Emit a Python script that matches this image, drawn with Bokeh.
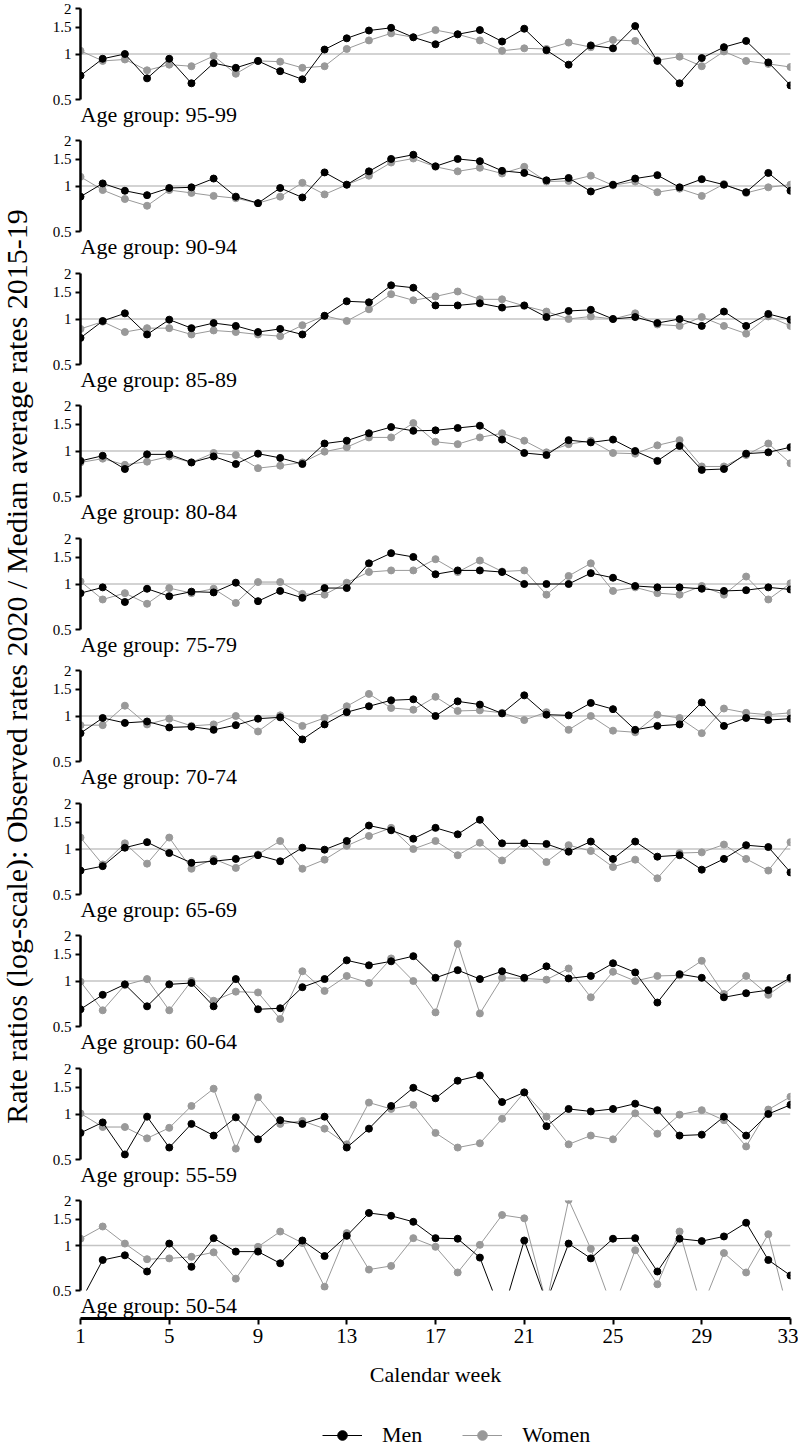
import math
from bokeh.plotting import figure
from bokeh.models import (Range1d, FixedTicker, CustomJSTickFormatter, Span, Title,
                          Legend, LegendItem, Label)
from bokeh.layouts import row, column
from bokeh.embed import file_html
from bokeh.resources import INLINE

weeks = list(range(1, 34))
x_ticks = [1, 5, 9, 13, 17, 21, 25, 29, 33]
y_ticks = [0.5, 1, 1.5, 2]
age_groups = ["95-99", "90-94", "85-89", "80-84", "75-79",
              "70-74", "65-69", "60-64", "55-59", "50-54"]

men_95_99 = [0.72,0.93,1.00,0.69,0.93,0.64,0.87,0.81,0.90,0.77,0.68,1.07,1.27,1.43,1.49,1.29,1.16,1.35,1.44,1.21,1.47,1.06,0.85,1.14,1.09,1.53,0.90,0.64,0.94,1.11,1.22,0.88,0.62]
women_95_99 = [1.05,0.90,0.92,0.78,0.85,0.83,0.97,0.74,0.90,0.89,0.81,0.83,1.08,1.23,1.37,1.29,1.44,1.35,1.23,1.05,1.09,1.08,1.19,1.11,1.24,1.22,0.91,0.96,0.83,1.04,0.90,0.86,0.82]
men_90_94 = [0.85,1.04,0.93,0.87,0.97,0.98,1.12,0.85,0.77,0.97,0.84,1.23,1.02,1.25,1.51,1.61,1.35,1.51,1.46,1.26,1.22,1.09,1.13,0.92,1.02,1.12,1.18,0.98,1.11,1.02,0.91,1.22,0.93]
women_90_94 = [1.15,0.94,0.82,0.74,0.94,0.90,0.86,0.83,0.77,0.85,1.05,0.88,1.02,1.17,1.43,1.52,1.34,1.25,1.32,1.21,1.34,1.07,1.08,1.17,1.01,1.07,0.91,0.96,0.86,1.03,0.90,0.98,1.02]
men_85_89 = [0.75,0.97,1.09,0.79,0.99,0.87,0.94,0.90,0.82,0.86,0.79,1.05,1.31,1.29,1.67,1.61,1.23,1.23,1.27,1.19,1.23,1.03,1.13,1.15,1.00,1.03,0.94,1.00,0.90,1.12,0.90,1.08,0.99]
women_85_89 = [0.86,0.96,0.82,0.87,0.87,0.79,0.84,0.82,0.79,0.77,0.91,1.05,0.97,1.16,1.46,1.33,1.41,1.52,1.35,1.35,1.22,1.12,1.00,1.04,1.00,1.09,0.92,0.90,1.03,0.90,0.80,1.04,0.90]
men_80_84 = [0.86,0.93,0.76,0.95,0.95,0.84,0.92,0.82,0.96,0.90,0.82,1.12,1.17,1.31,1.44,1.36,1.37,1.42,1.47,1.19,0.97,0.94,1.18,1.14,1.19,1.00,0.86,1.08,0.75,0.76,0.96,0.98,1.06]
women_80_84 = [0.84,0.89,0.81,0.85,0.92,0.84,0.97,0.94,0.77,0.80,0.84,0.99,1.06,1.23,1.23,1.53,1.15,1.11,1.23,1.31,1.17,0.98,1.11,1.17,0.97,0.96,1.09,1.18,0.79,0.79,0.94,1.12,0.83]
men_75_79 = [0.87,0.95,0.76,0.93,0.83,0.89,0.88,1.02,0.77,0.90,0.81,0.94,0.94,1.37,1.60,1.51,1.16,1.23,1.23,1.20,1.00,1.00,1.00,1.18,1.10,0.97,0.95,0.95,0.93,0.90,0.91,0.95,0.92]
women_75_79 = [1.04,0.79,0.87,0.74,0.94,0.87,0.93,0.75,1.03,1.03,0.86,0.85,1.02,1.20,1.23,1.23,1.46,1.20,1.43,1.21,1.23,0.85,1.13,1.37,0.90,0.95,0.87,0.85,0.97,0.85,1.12,0.79,1.01]
men_70_74 = [0.77,0.97,0.90,0.92,0.84,0.85,0.81,0.87,0.96,0.98,0.70,0.88,1.06,1.16,1.27,1.29,1.00,1.25,1.19,1.04,1.37,1.02,1.01,1.22,1.11,0.81,0.86,0.88,1.23,0.86,0.97,0.94,0.96]
women_70_74 = [0.87,0.87,1.17,0.88,0.96,0.86,0.88,1.00,0.79,1.01,0.86,0.97,1.16,1.40,1.13,1.10,1.34,1.08,1.09,1.05,0.94,1.06,0.81,1.00,0.80,0.78,1.02,0.97,0.77,1.12,1.05,1.02,1.05]
men_65_69 = [0.72,0.77,1.02,1.11,0.94,0.81,0.83,0.86,0.91,0.83,1.02,0.99,1.13,1.43,1.33,1.17,1.38,1.25,1.56,1.09,1.09,1.08,0.96,1.12,0.86,1.12,0.89,0.91,0.73,0.86,1.06,1.03,0.70]
women_65_69 = [1.19,0.79,1.09,0.80,1.19,0.74,0.86,0.75,0.92,1.13,0.74,0.85,1.05,1.22,1.38,1.00,1.13,0.91,1.10,0.84,1.10,0.82,1.06,0.97,0.76,0.85,0.64,0.94,0.95,1.07,0.86,0.72,1.11]
men_60_64 = [0.65,0.81,0.95,0.68,0.95,0.97,0.68,1.03,0.65,0.66,0.91,1.03,1.37,1.27,1.35,1.46,1.05,1.18,1.03,1.16,1.05,1.25,1.04,1.08,1.31,1.14,0.72,1.11,1.05,0.78,0.83,0.87,1.05]
women_60_64 = [0.99,0.64,0.94,1.03,0.64,1.00,0.74,0.85,0.84,0.56,1.16,0.86,1.08,0.97,1.41,1.00,0.62,1.76,0.61,1.05,1.04,1.02,1.21,0.78,1.15,1.00,1.08,1.09,1.36,0.82,1.08,0.81,1.03]
men_55_59 = [0.75,0.88,0.54,0.96,0.60,0.86,0.72,0.95,0.68,0.91,0.86,0.96,0.60,0.80,1.13,1.49,1.27,1.66,1.80,1.20,1.39,0.83,1.08,1.04,1.08,1.17,1.06,0.72,0.73,0.96,0.72,1.00,1.15]
women_55_59 = [1.01,0.82,0.82,0.69,0.81,1.13,1.47,0.59,1.29,0.86,0.90,0.80,0.63,1.19,1.08,1.15,0.75,0.60,0.64,0.93,1.39,0.96,0.63,0.72,0.68,1.01,0.74,0.99,1.06,0.91,0.61,1.07,1.30]
men_50_54 = [0.42,0.80,0.86,0.67,1.03,0.72,1.12,0.91,0.91,0.76,1.08,0.85,1.16,1.65,1.58,1.44,1.12,1.11,0.83,0.34,1.08,0.42,1.03,0.82,1.11,1.12,0.67,1.11,1.07,1.15,1.42,0.80,0.63]
women_50_54 = [1.11,1.34,1.03,0.81,0.82,0.84,0.90,0.60,0.98,1.24,1.04,0.53,1.21,0.69,0.73,1.12,0.98,0.66,1.01,1.60,1.52,0.41,2.02,0.95,0.37,0.93,0.55,1.24,0.38,0.89,0.66,1.19,0.31]

men_series = [men_95_99, men_90_94, men_85_89, men_80_84, men_75_79,
              men_70_74, men_65_69, men_60_64, men_55_59, men_50_54]
women_series = [women_95_99, women_90_94, women_85_89, women_80_84, women_75_79,
                women_70_74, women_65_69, women_60_64, women_55_59, women_50_54]

FONT = "Liberation Serif"
MEN_COLOR = "#000000"
WOMEN_COLOR = "#999999"
REF_COLOR = "#c4c4c4"
Y_TITLE = "Rate ratios (log-scale): Observed rates 2020 / Median average rates 2015-19"

TF_W = 48
COL_W = 750
LEFT = 32
RIGHT = 8
TOP = 8
FRAME_H = 91
PANEL_HEIGHTS = [132, 133, 132, 133, 132, 133, 132, 133, 132, 125]
AX_H = 82
LG_H = 50

x_range = Range1d(1, 33)


def style_common(p):
    p.outline_line_color = None
    p.background_fill_color = "white"
    p.border_fill_color = "white"
    p.grid.visible = False


def make_panel(label, men, women, height):
    bottom = height - TOP - FRAME_H
    p = figure(width=COL_W, height=height,
               min_border_left=LEFT, min_border_right=RIGHT,
               min_border_top=TOP, min_border_bottom=bottom,
               x_range=x_range, y_range=Range1d(0.5, 2), y_axis_type="log",
               x_axis_location=None, title=None,
               output_backend="svg", toolbar_location=None)
    style_common(p)
    ya = p.yaxis[0]
    ya.ticker = FixedTicker(ticks=y_ticks, minor_ticks=[])
    ya.formatter = CustomJSTickFormatter(code="return String(tick);")
    ya.axis_line_width = 2.5
    ya.axis_line_color = "black"
    ya.major_tick_line_width = 2
    ya.major_tick_out = 5
    ya.major_tick_in = 0
    ya.minor_tick_out = 0
    ya.minor_tick_in = 0
    ya.major_label_text_font = FONT
    ya.major_label_text_font_size = "15px"
    ya.major_label_text_color = "black"
    ya.major_label_standoff = 4

    p.add_layout(Span(location=1, dimension="width", line_color=REF_COLOR,
                      line_width=1.6, level="underlay"))
    p.line(weeks, women, line_color=WOMEN_COLOR, line_width=1)
    p.scatter(weeks, women, size=7, fill_color=WOMEN_COLOR, line_color=WOMEN_COLOR)
    p.line(weeks, men, line_color=MEN_COLOR, line_width=1)
    p.scatter(weeks, men, size=7, fill_color=MEN_COLOR, line_color=MEN_COLOR)

    t = Title(text="Age group: " + label, align="left", text_font=FONT,
              text_font_size="22px", text_font_style="normal",
              text_color="black", standoff=0, offset=0)
    p.add_layout(t, "below")
    return p


panels = [make_panel(ag, men_series[i], women_series[i], PANEL_HEIGHTS[i])
          for i, ag in enumerate(age_groups)]

# x axis figure (1px frame, axis below it)
ax = figure(width=COL_W, height=AX_H,
            min_border_left=LEFT, min_border_right=RIGHT,
            min_border_top=0, min_border_bottom=AX_H - 1,
            x_range=x_range, y_range=Range1d(0, 1),
            y_axis_location=None, title=None,
            output_backend="svg", toolbar_location=None)
style_common(ax)
xa = ax.xaxis[0]
xa.ticker = FixedTicker(ticks=x_ticks, minor_ticks=[])
xa.axis_line_width = 3
xa.axis_line_color = "black"
xa.major_tick_line_width = 2
xa.major_tick_out = 6
xa.major_tick_in = 0
xa.minor_tick_out = 0
xa.minor_tick_in = 0
xa.major_label_text_font = FONT
xa.major_label_text_font_size = "21px"
xa.major_label_text_color = "black"
xa.major_label_standoff = 4
xa.axis_label = "Calendar week"
xa.axis_label_text_font = FONT
xa.axis_label_text_font_size = "22px"
xa.axis_label_text_font_style = "normal"
xa.axis_label_text_color = "black"
xa.axis_label_standoff = 16

# legend figure (same borders as the panels, so frames stay aligned)
lg = figure(width=COL_W, height=LG_H,
            min_border_left=LEFT, min_border_right=RIGHT,
            min_border_top=0, min_border_bottom=0,
            x_range=Range1d(0, 1), y_range=Range1d(0, 1),
            x_axis_location=None, y_axis_location=None, title=None,
            output_backend="svg", toolbar_location=None)
style_common(lg)
nan = float("nan")
m_line = lg.line([nan], [nan], line_color=MEN_COLOR, line_width=1)
m_pt = lg.scatter([nan], [nan], size=9, fill_color=MEN_COLOR, line_color=MEN_COLOR)
w_line = lg.line([nan], [nan], line_color=WOMEN_COLOR, line_width=1)
w_pt = lg.scatter([nan], [nan], size=9, fill_color=WOMEN_COLOR, line_color=WOMEN_COLOR)
legend = Legend(items=[LegendItem(label="Men", renderers=[m_line, m_pt]),
                       LegendItem(label="Women", renderers=[w_line, w_pt])],
                orientation="horizontal", location=(242, 1),
                glyph_width=40, glyph_height=24, label_standoff=20, spacing=40,
                padding=0, margin=0, border_line_color=None,
                background_fill_alpha=0,
                label_text_font=FONT, label_text_font_size="22px",
                label_text_color="black")
lg.add_layout(legend)

TOTAL_H = sum(PANEL_HEIGHTS) + AX_H + LG_H

# y title figure
tf = figure(width=TF_W, height=TOTAL_H, min_border=0,
            x_range=Range1d(0, TF_W), y_range=Range1d(0, TOTAL_H),
            x_axis_location=None, y_axis_location=None, title=None,
            output_backend="svg", toolbar_location=None)
style_common(tf)
tf.add_layout(Label(x=16, y=TOTAL_H - 666, text=Y_TITLE, angle=math.pi / 2,
                    text_align="center", text_baseline="middle",
                    text_font=FONT, text_font_size="30px", text_color="black"))

layout = row(tf, column(*panels, ax, lg))

open("out.html", "w").write(file_html(layout, INLINE))
